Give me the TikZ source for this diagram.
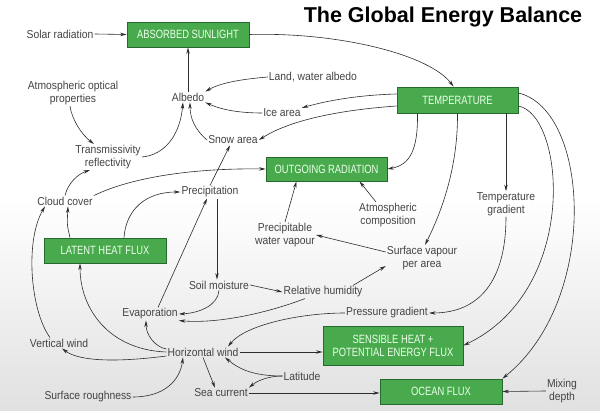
\documentclass[tikz,border=0pt]{standalone}
\usepackage{fontspec}
\setmainfont[FakeStretch=0.9]{Liberation Sans}
\newfontfamily\boxfont[FakeStretch=0.78]{Liberation Sans}
\newfontfamily\titlefont{Liberation Sans}
\usetikzlibrary{arrows.meta}
\definecolor{boxgreen}{RGB}{72,170,76}
\definecolor{boxedge}{RGB}{38,105,45}
\definecolor{labgray}{RGB}{68,68,68}
\definecolor{linegray}{RGB}{45,45,45}
\begin{document}
\begin{tikzpicture}[x=1pt,y=-1pt,
 lab/.style={text=labgray,font=\fontsize{11.5}{13}\selectfont,align=center,inner sep=1pt},
 gbox/.style={fill=boxgreen,draw=boxedge,line width=0.8pt,text=white!92!green,font=\boxfont\fontsize{12}{13}\selectfont,align=center,minimum width=122pt,minimum height=25pt,inner sep=1pt},
 arr/.style={draw=linegray,line width=0.6pt,-{Stealth[length=6.5pt,width=3.4pt]}}]
\useasboundingbox (0,0) rectangle (600,411);
\fill[white] (0,0) rectangle (600,411);
\shade[top color=white,bottom color=gray!24] (0,200) rectangle (600,411);
\node[font=\titlefont\bfseries\fontsize{21.5}{24}\selectfont,text=black] (title) at (443,17) {The Global Energy Balance};
% boxes
\node[gbox] (abs) at (188,34.5) {ABSORBED SUNLIGHT};
\node[gbox,minimum width=121pt,minimum height=26pt] (temp) at (457.5,100) {TEMPERATURE};
\node[gbox,minimum width=121pt,minimum height=24pt] (out) at (326.5,169) {OUTGOING RADIATION};
\node[gbox] (lat) at (105,250.5) {LATENT HEAT FLUX};
\node[gbox,minimum width=140pt,minimum height=39pt] (sens) at (393,345.5) {SENSIBLE HEAT +\\POTENTIAL ENERGY FLUX};
\node[gbox] (ocean) at (441,391.5) {OCEAN FLUX};
% labels
\node[lab] (solar) at (60,34) {Solar radiation};
\node[lab] (albedo) at (188,97) {Albedo};
\node[lab] (landw) at (313,77) {Land, water albedo};
\node[lab] (ice) at (282,113) {Ice area};
\node[lab] (snow) at (233,140) {Snow area};
\node[lab] (aop) at (73,93) {Atmospheric optical\\properties};
\node[lab] (trans) at (108,157) {Transmissivity\\reflectivity};
\node[lab] (cloud) at (65,201) {Cloud cover};
\node[lab] (precip) at (210,192) {Precipitation};
\node[lab] (atm) at (388,215) {Atmospheric\\composition};
\node[lab] (tgrad) at (506,204) {Temperature\\gradient};
\node[lab] (pwv) at (285,235) {Precipitable\\water vapour};
\node[lab] (svpa) at (422,258) {Surface vapour\\per area};
\node[lab] (soil) at (219,285) {Soil moisture};
\node[lab] (relh) at (323,292) {Relative humidity};
\node[lab] (evap) at (150,314) {Evaporation};
\node[lab] (pgrad) at (387,313) {Pressure gradient};
\node[lab] (vwind) at (59,343) {Vertical wind};
\node[lab] (hwind) at (203,352) {Horizontal wind};
\node[lab] (latit) at (302,376) {Latitude};
\node[lab] (srough) at (88,397) {Surface roughness};
\node[lab] (sea) at (221,393) {Sea current};
\node[lab] (mix) at (562,391) {Mixing\\depth};
% connectors
\draw[arr] (solar.east) -- (abs.west);
\draw[arr] (abs.east) .. controls (340,32) and (430,55) .. ([xshift=-4pt]temp.north);
\draw[arr] (albedo.north) -- (abs.south);
\draw[arr] (landw.west) .. controls (245,79) and (222,82) .. (albedo.north east);
\draw[arr] (ice.west) .. controls (240,113) and (222,110) .. (albedo.south east);
\draw[arr] ([yshift=6pt]temp.west) .. controls (360,95) and (330,100) .. (ice.north east);
\draw[arr] ([yshift=-6pt]temp.west) .. controls (340,110) and (290,120) .. (snow.east);
\draw[arr] (snow.west) .. controls (195,130) and (190,118) .. ([xshift=2pt]albedo.south);
\draw[arr] (trans.east) .. controls (165,155) and (180,135) .. ([xshift=-5pt]albedo.south);
\draw[arr] ([xshift=-3pt]aop.south) .. controls (72,120) and (82,135) .. ([xshift=-14pt]trans.north);
\draw[arr] (precip.north) -- ([xshift=-3pt]snow.south);
\draw[arr] (cloud.north east) .. controls (130,178) and (190,168) .. (out.west);
\draw[arr] (cloud.north) .. controls (68,183) and (78,174) .. ([xshift=-18pt]trans.south);
\draw[arr] ([xshift=-40pt]temp.south) .. controls (418,150) and (410,165) .. (out.east);
\draw[arr] ([xshift=-12pt]atm.north) -- ([xshift=33pt]out.south);
\draw[arr] (pwv.north) -- ([xshift=-30pt]out.south);
\draw[arr] ([yshift=6pt]svpa.west) -- (pwv.east);
\draw[arr] (temp.south) .. controls (458,170) and (440,215) .. ([xshift=3pt]svpa.north);
\draw[arr] (tgrad.north |- temp.south) -- (tgrad.north);
\draw[arr] (tgrad.south) .. controls (506,280) and (480,313) .. (pgrad.east);
\draw[arr] ([yshift=-6pt]temp.east) .. controls (565,115) and (580,290) .. (sens.east);
\draw[arr] ([yshift=7pt]temp.east) .. controls (590,110) and (600,300) .. (ocean.north east);
\draw[arr] (mix.west) -- (ocean.east);
\draw[arr] ([xshift=-35pt]lat.north) .. controls (67,225) .. ([xshift=3pt]cloud.south);
\draw[arr] ([xshift=19pt]lat.north) .. controls (126,210) and (145,192) .. (precip.west);
\draw[arr] ([xshift=7pt]precip.south) -- ([xshift=-2pt]soil.north);
\draw[arr] ([xshift=8pt]evap.north) -- ([xshift=-3pt]precip.south);
\draw[arr] (soil.east) -- (relh.west);
\draw[arr] (soil.south) .. controls (218,305) and (200,313) .. (evap.east);
\draw[arr] ([xshift=30pt]relh.north) -- ([yshift=5pt]svpa.south west);
\draw[arr] ([xshift=-18pt]relh.south) .. controls (270,312) and (220,324) .. (evap.south east);
\draw[arr] (pgrad.west) .. controls (300,313) and (245,325) .. ([xshift=25pt]hwind.north);
\draw[arr] (hwind.east) -- (sens.west |- hwind.east);
\draw[arr] ([yshift=3pt]hwind.west) .. controls (155,347) and (146,335) .. ([xshift=-4pt]evap.south);
\draw[arr] (hwind.west) .. controls (110,350) and (80,310) .. ([xshift=-25pt]lat.south);
\draw[arr] ([yshift=-4pt]hwind.west) .. controls (120,362) and (80,362) .. ([xshift=3pt]vwind.south);
\draw[arr] ([xshift=-9pt]vwind.north) .. controls (30,310) and (25,240) .. ([xshift=-20pt]cloud.south);
\draw[arr] (srough.east) .. controls (165,397) and (180,380) .. ([xshift=-20pt]hwind.south);
\draw[arr] (hwind.south) -- ([xshift=-6pt]sea.north);
\draw[arr] (latit.west) .. controls (255,376) and (240,370) .. ([xshift=22pt]hwind.south);
\draw[arr] (latit.west) .. controls (270,376) and (258,380) .. (sea.north east);
\draw[arr] (sea.east) -- (ocean.west |- sea.east);
\end{tikzpicture}
\end{document}
